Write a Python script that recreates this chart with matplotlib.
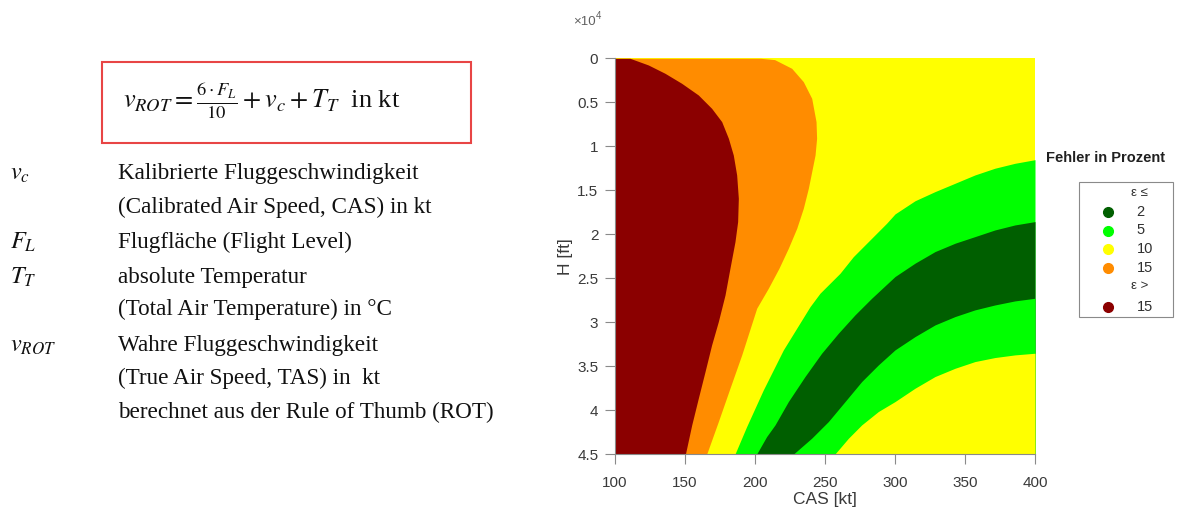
import matplotlib
matplotlib.use("Agg")
import matplotlib.pyplot as plt
from matplotlib.lines import Line2D
from matplotlib.patches import Rectangle

plt.rcParams['mathtext.fontset'] = 'stix'

# ---------------- data ----------------
# boundary eps = 15 % (dark red | orange): CAS [kt] as function of H [ft]
H_red = [0, 758, 1705, 2843, 4170, 5685, 7200, 9100, 11000, 13265, 15920, 18570, 20845,
         23880, 26900, 29940, 32600, 35630, 38660, 41690, 45000]
kt_red = [110.7, 123.8, 135.7, 147.6, 159.5, 169.0, 176.2, 181.0, 184.5, 186.9, 188.1, 187.6, 185.7,
          182.1, 178.6, 173.8, 169.0, 164.3, 159.5, 154.8, 150.3]
# boundary eps = 10 % (orange | yellow)
H_org = [0, 150, 1137, 2653, 4548, 7200, 9096, 10990, 12890, 14780, 17055, 19330, 21600,
         23880, 26150, 28425, 33730, 37520, 41310, 45000]
kt_org = [204.0, 214.0, 226.2, 234.5, 240.5, 243.6, 244.0, 242.9, 240.5, 238.1, 234.5, 229.8, 223.8,
          217.1, 209.5, 201.2, 190.5, 182.1, 173.8, 165.5]
# boundary yellow | light green (upper): H [ft] as function of CAS [kt]
kt_A = [185.7, 194.0, 205.9, 220.2, 239.3, 246.4, 260.7, 270.2, 294.0, 300.0, 314.3, 328.6,
        342.9, 357.1, 371.4, 385.7, 400]
H_A = [45000, 41890, 37720, 33170, 28240, 26720, 24450, 22560, 18760, 17700, 16200, 15160,
       14210, 13265, 12500, 11940, 11530]
# boundary light green | dark green (upper)
kt_B = [201.2, 208.3, 214.3, 223.8, 235.7, 247.6, 259.5, 271.4, 283.3, 300.0, 314.3, 328.6,
        342.9, 357.1, 371.4, 385.7, 400]
H_B = [45000, 43020, 41690, 39040, 36190, 33540, 31270, 29180, 27290, 24820, 23300, 21980,
       21030, 20280, 19520, 18950, 18570]
# boundary dark green | light green (lower)
kt_C = [227.5, 240.5, 252.4, 264.3, 276.2, 288.1, 300.0, 314.3, 328.6, 342.9, 357.1, 371.4, 385.7, 400]
H_C = [45000, 43200, 41310, 39040, 36760, 34870, 33160, 31650, 30320, 29370, 28610, 28050, 27590, 27290]
# boundary light green | yellow (lower)
kt_D = [257.1, 266.7, 276.2, 288.1, 300.0, 314.3, 328.6, 342.9, 357.1, 371.4, 385.7, 400]
H_D = [45000, 43210, 41690, 40170, 39040, 37520, 36190, 35250, 34490, 34030, 33730, 33540]

x_ticks = [100, 150, 200, 250, 300, 350, 400]
y_ticks = [0, 5000, 10000, 15000, 20000, 25000, 30000, 35000, 40000, 45000]
y_ticklabels = ['0', '0.5', '1', '1.5', '2', '2.5', '3', '3.5', '4', '4.5']

legend_labels = ['ε ≤', '2', '5', '10', '15', 'ε >', '15']

C_DRED = '#8B0000'
C_ORG = '#FF8C00'
C_YEL = '#FFFF00'
C_LGR = '#00FF00'
C_DGR = '#005F00'
legend_colors = [None, C_DGR, C_LGR, C_YEL, C_ORG, None, C_DRED]

W, Hpx = 1193, 507

# ---------------- figure ----------------
fig = plt.figure(figsize=(W / 100, Hpx / 100), dpi=100)
ax = fig.add_axes([615 / W, 53 / Hpx, 420 / W, 395.7 / Hpx])

X0, X1 = x_ticks[0], x_ticks[-1]
Y0, Y1 = y_ticks[0], y_ticks[-1]

ax.fill_between([X0, X1], Y0, Y1, color=C_YEL, lw=0)
ax.fill_betweenx(H_org, X0, kt_org, color=C_ORG, lw=0)
ax.fill_betweenx(H_red, X0, kt_red, color=C_DRED, lw=0)
ax.fill_between(kt_A, H_A, Y1, color=C_LGR, lw=0)
ax.fill_between(kt_B, H_B, Y1, color=C_DGR, lw=0)
ax.fill_between(kt_C, H_C, Y1, color=C_LGR, lw=0)
ax.fill_between(kt_D, H_D, Y1, color=C_YEL, lw=0)

ax.set_xlim(X0, X1)
ax.set_ylim(Y1, Y0)
ax.set_xticks(x_ticks)
ax.set_xticklabels([str(v) for v in x_ticks])
ax.set_yticks(y_ticks)
ax.set_yticklabels(y_ticklabels)

tick_col = '#3a3a3a'
for s in ['top', 'right']:
    ax.spines[s].set_visible(False)
for s in ['left', 'bottom']:
    ax.spines[s].set_color('#8a8a8a')
    ax.spines[s].set_linewidth(0.8)
ax.tick_params(axis='both', direction='out', length=7, width=0.8, color='#8a8a8a',
               labelsize=11, labelcolor=tick_col)
ax.tick_params(axis='x', pad=9)
ax.tick_params(axis='y', pad=5)
for lab in ax.get_xticklabels() + ax.get_yticklabels():
    lab.set_family('Liberation Sans')
ax.set_xlabel('CAS [kt]', fontsize=12.5, color=tick_col, family='Liberation Sans', labelpad=1)
ax.set_ylabel('H [ft]', fontsize=12.5, color=tick_col, family='Liberation Sans', labelpad=3)
fig.text(573 / W, 1 - 22 / Hpx, '×10', fontsize=9.5, color='#606060', va='center', ha='left',
         family='Liberation Sans')
fig.text(595.5 / W, 1 - 16 / Hpx, '4', fontsize=7, color='#606060', va='center', ha='left',
         family='Liberation Sans')

# legend (drawn manually to match the layout)
fig.patches.append(Rectangle((1079 / W, 1 - 317 / Hpx), (1173 - 1079) / W, (317 - 182) / Hpx,
                             transform=fig.transFigure, fill=False, edgecolor='#8a8a8a', lw=0.8))
row_y = [193, 212, 230.5, 249, 267.5, 286, 307]
for py, lab, col in zip(row_y, legend_labels, legend_colors):
    if col is None:
        fig.text(1131 / W, 1 - py / Hpx, lab, fontsize=9.5, color='#303030', va='center', ha='left',
                 family='Liberation Sans')
    else:
        fig.add_artist(Line2D([1107.5 / W], [1 - py / Hpx], transform=fig.transFigure,
                              linestyle='none', marker='o', markersize=7, color=col))
        fig.text(1136.5 / W, 1 - py / Hpx, lab, fontsize=10.5, color='#303030', va='center', ha='left',
                 family='Liberation Sans')
fig.text(1046 / W, 1 - 158 / Hpx, 'Fehler in Prozent', fontsize=10.5, fontweight='bold',
         family='Liberation Sans', color='#202020', va='center', ha='left')

# ---------------- left text block ----------------
fig.patches.append(Rectangle((102 / W, 1 - 143 / Hpx), (471 - 102) / W, (143 - 62) / Hpx,
                             transform=fig.transFigure, fill=False, edgecolor='#E84545', lw=1.5))
fig.text(123 / W, 1 - 101 / Hpx,
         r'$v_{ROT} = \frac{6\cdot F_L}{10} + v_c + T_T$  in kt',
         fontsize=19, family='Liberation Serif', va='center', ha='left', color='#111111')

sym_x = 10 / W
desc_x = 118 / W
rows = [
    (173, r'$v_c$', 'Kalibrierte Fluggeschwindigkeit'),
    (207, None, '(Calibrated Air Speed, CAS) in kt'),
    (242, r'$F_L$', 'Flugfläche (Flight Level)'),
    (277, r'$T_T$', 'absolute Temperatur'),
    (309, None, '(Total Air Temperature) in °C'),
    (345, r'$v_{ROT}$', 'Wahre Fluggeschwindigkeit'),
    (378, None, '(True Air Speed, TAS) in  kt'),
    (412, None, 'berechnet aus der Rule of Thumb (ROT)'),
]
for py, sym, desc in rows:
    if sym:
        fig.text(sym_x, 1 - py / Hpx, sym, fontsize=17.5, va='center', ha='left', color='#111111')
    fig.text(desc_x, 1 - py / Hpx, desc, fontsize=16.7, family='Liberation Serif',
             va='center', ha='left', color='#111111')

fig.savefig('out.png', dpi=100)
